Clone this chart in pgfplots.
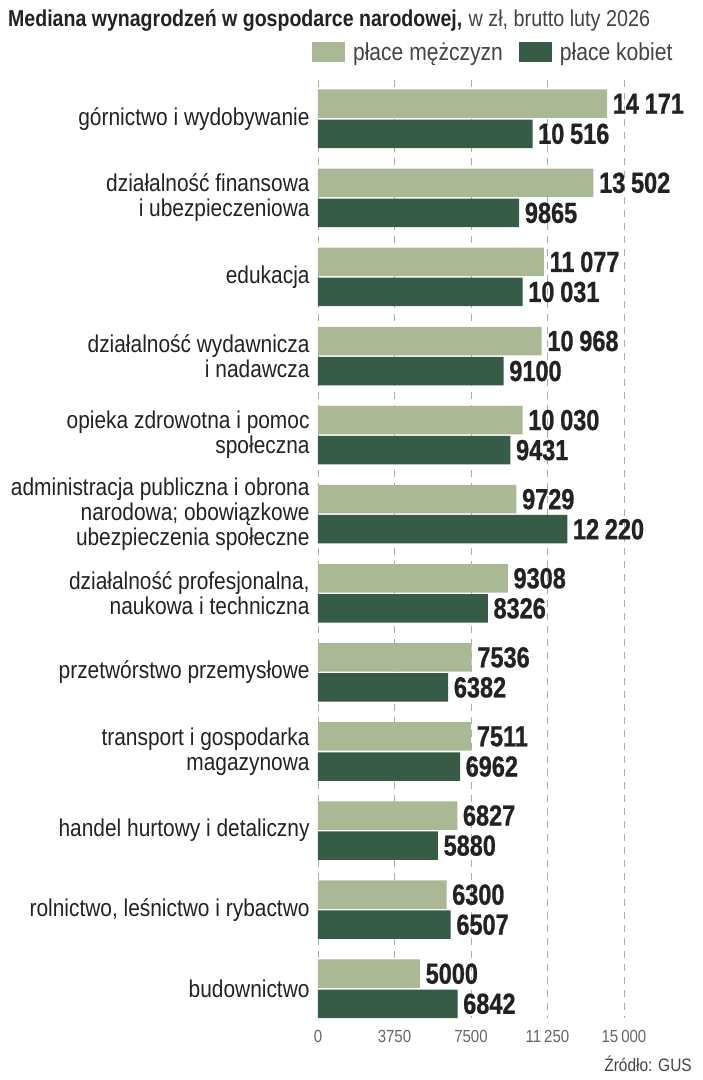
\documentclass[border=0pt]{standalone}
\usepackage{pgfplots}
\pgfplotsset{compat=1.18}
\usepackage{fontspec}
\setmainfont{Liberation Sans}
\newfontfamily\lab{Liberation Sans}[FakeStretch=0.86]
\newfontfamily\val{Liberation Sans}[FakeStretch=0.81, BoldFeatures={FakeBold=0.8}]
\newfontfamily\ttl{Liberation Sans}[FakeStretch=0.85]
\definecolor{light}{HTML}{AAB895}
\definecolor{dark}{HTML}{365C47}
\definecolor{txt}{HTML}{222222}
\begin{document}
\begin{tikzpicture}
\useasboundingbox (0pt,0pt) rectangle (703pt,-1080pt);
\node[anchor=base west,inner sep=0pt,text=txt] at (8pt,-26pt) {\fontsize{23}{25}\selectfont{\ttl\bfseries Mediana wynagrodzeń w gospodarce narodowej,}\ {\lab\color{txt!85}w zł, brutto luty 2026}};
\begin{axis}[
  at={(318pt,-1018pt)}, anchor=south west,
  scale only axis, width=306pt, height=938pt,
  xmin=0, xmax=15000,
  y dir=reverse, ymin=-0.49, ymax=11.37,
  xbar, bar width=28.5pt, bar shift=0pt,
  axis line style={draw=none},
  major tick style={draw=none},
  xtick={0,3750,7500,11250,15000},
  scaled x ticks=false,
  xmajorgrids, grid style={dash pattern=on 7pt off 6pt, gray!65, line width=0.9pt},
  xticklabel style={font=\lab\fontsize{17.5}{18}\selectfont, text=txt!70, yshift=-9pt},
  /pgf/number format/.cd, 1000 sep={\,}, min exponent for 1000 sep=4, assume math mode=true,
  /pgfplots/.cd,
  ytick={0,...,11},
  yticklabels={
    {górnictwo i wydobywanie},
    {działalność finansowa\\i ubezpieczeniowa},
    {edukacja},
    {działalność wydawnicza\\i nadawcza},
    {opieka zdrowotna i pomoc\\społeczna},
    {administracja publiczna i obrona\\narodowa; obowiązkowe\\ubezpieczenia społeczne},
    {działalność profesjonalna,\\naukowa i techniczna},
    {przetwórstwo przemysłowe},
    {transport i gospodarka\\magazynowa},
    {handel hurtowy i detaliczny},
    {rolnictwo, leśnictwo i rybactwo},
    {budownictwo}},
  yticklabel style={align=right, font=\lab\fontsize{24.3}{25}\selectfont, text=txt, xshift=-2pt, inner sep=2pt},
  nodes near coords,
  nodes near coords style={anchor=west, inner sep=0pt, xshift=5.5pt, text=txt,
    font=\val\bfseries\fontsize{29}{30}\selectfont,
    /pgf/number format/.cd, 1000 sep={\hspace{0.2em}}, min exponent for 1000 sep=4, assume math mode=true},
  legend style={at={(-0.02,1.0)}, anchor=south west, yshift=16pt, inner sep=0pt, draw=none, fill=none,
    legend columns=2, font=\lab\fontsize{24.5}{26}\selectfont, text=txt!85,
    /tikz/every even column/.append style={column sep=14pt}},
  legend image code/.code={\fill[#1] (0pt,-10pt) rectangle (33pt,10pt); \path (39pt,0pt);},
]
\addplot[fill=light, draw=none] coordinates {
(14171,-0.19) (13502,0.81) (11077,1.81) (10968,2.81) (10030,3.81) (9729,4.81)
(9308,5.81) (7536,6.81) (7511,7.81) (6827,8.81) (6300,9.81) (5000,10.81)};
\addlegendentry{płace mężczyzn}
\addplot[fill=dark, draw=none] coordinates {
(10516,0.19) (9865,1.19) (10031,2.19) (9100,3.19) (9431,4.19) (12220,5.19)
(8326,6.19) (6382,7.19) (6962,8.19) (5880,9.19) (6507,10.19) (6842,11.19)};
\addlegendentry{płace kobiet}
\end{axis}
\node[anchor=base east,inner sep=0pt,text=txt!85] at (692pt,-1071pt) {\lab\fontsize{18}{19}\selectfont Źródło: GUS};
\end{tikzpicture}
\end{document}
